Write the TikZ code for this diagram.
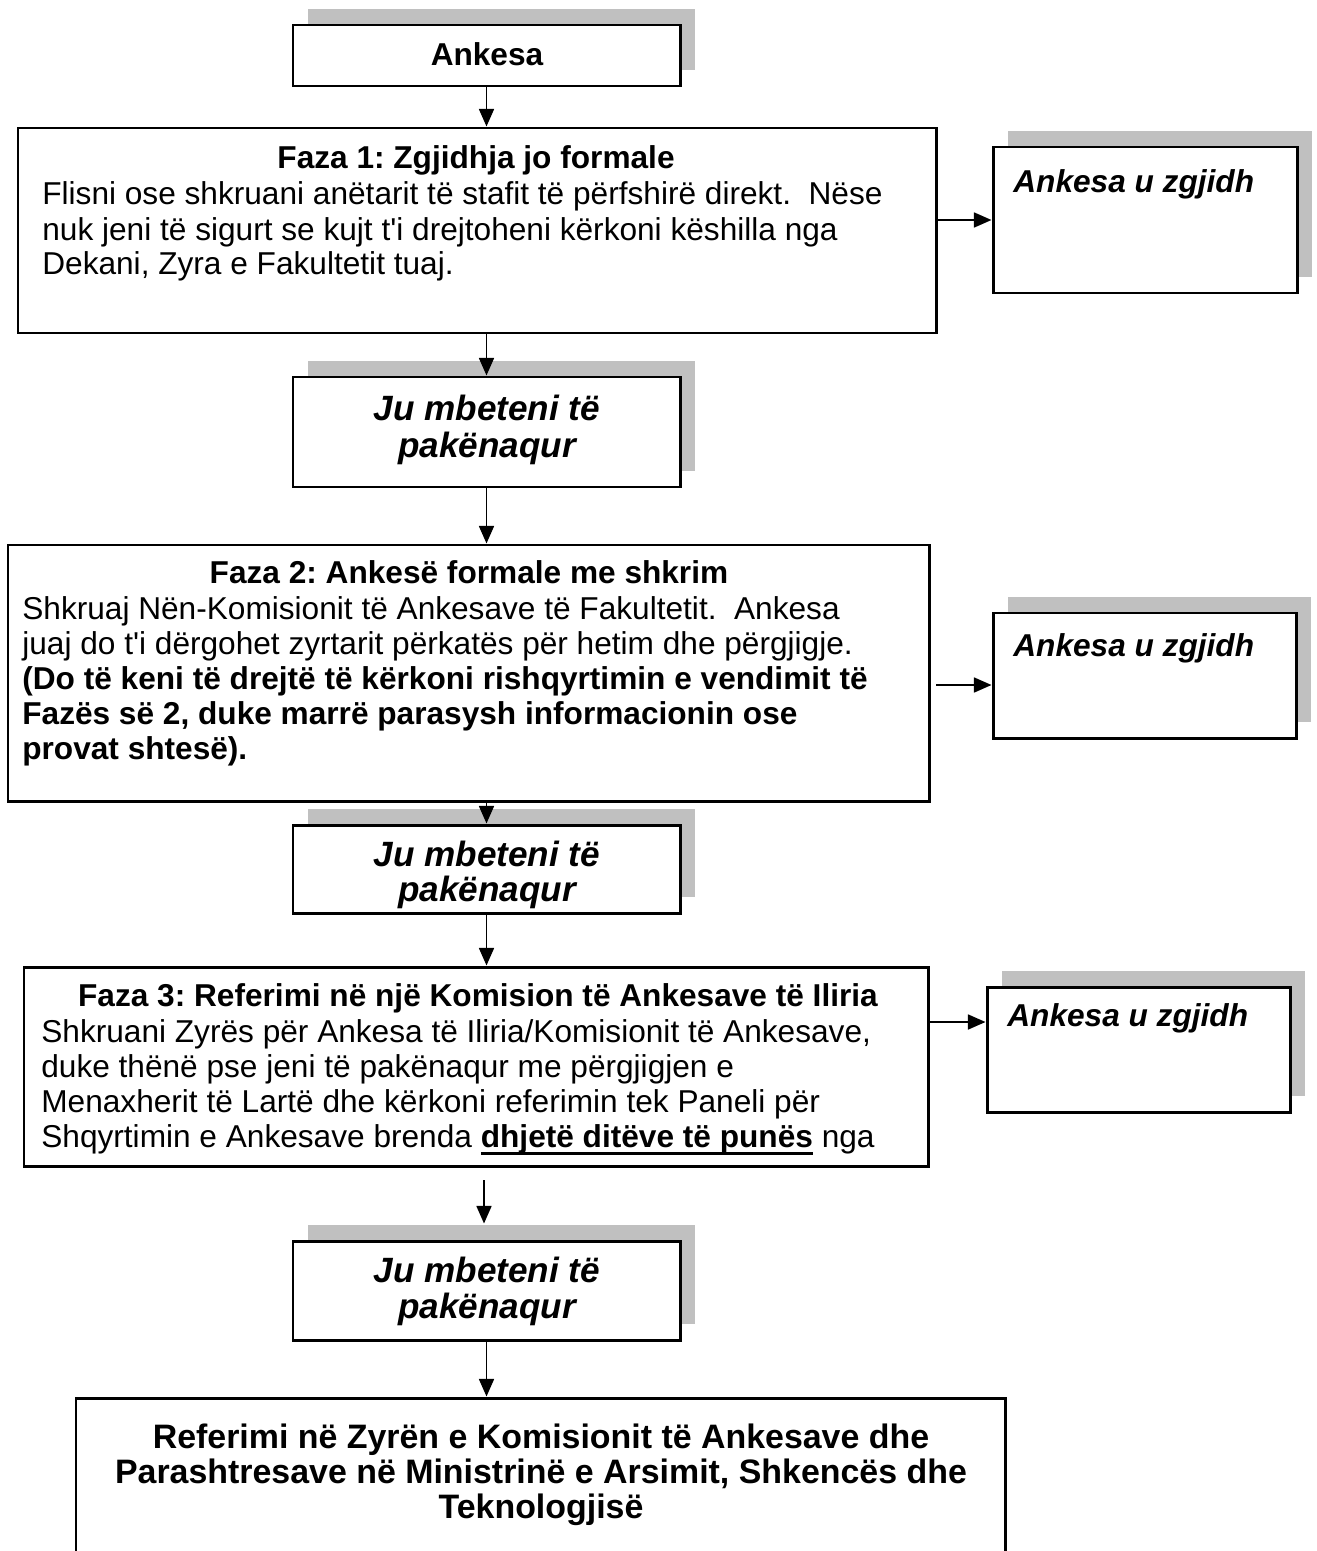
\documentclass[tikz,border=0pt]{standalone}
\usepackage{fontspec}
\setmainfont{Liberation Sans}[Ligatures=TeXOff]
\usetikzlibrary{arrows.meta,fit,shadows}
\definecolor{shadowgray}{HTML}{C0C0C0}
\newcommand\ulbold[1]{\setbox0\hbox{\bfseries #1}\rlap{\rule[-0.24em]{\wd0}{1.3pt}}\box0\relax}
\begin{document}
\frenchspacing
\begin{tikzpicture}[x=0.02cm,y=-0.02cm,
  box/.style={draw=black, line width=1.7pt, fill=white, inner sep=0pt},
  shbox/.style={box, drop shadow={shadow xshift=0.3cm, shadow yshift=0.32cm, fill=shadowgray, opacity=1}},
  arr/.style={line width=1.1pt, -{Triangle[length=10pt,width=8.5pt]}},
  txt/.style={inner sep=0pt, anchor=base west, font=\fontsize{18}{20}\selectfont},
  ttl/.style={inner sep=0pt, anchor=base, font=\fontsize{18}{20}\selectfont\bfseries},
  bigttl/.style={inner sep=0pt, anchor=base, font=\fontsize{19.3}{22}\selectfont\bfseries},
  itl/.style={inner sep=0pt, anchor=base, font=\fontsize{20}{22}\selectfont\bfseries\itshape},
  itlw/.style={inner sep=0pt, anchor=base west, font=\fontsize{18}{20}\selectfont\bfseries\itshape}
]
\useasboundingbox (0,0) rectangle (1316,1551);
\clip (0,0) rectangle (1316,1551);

% boxes
\node[shbox, fit={(293,25) (680,86)}] (ank) {};
\node[box, fit={(18,128) (936,333)}] (f1) {};
\node[shbox, fit={(993,147) (1297,293)}] (r1) {};
\node[shbox, fit={(293,377) (680,487)}] (ju1) {};
\node[box, fit={(8,545) (929,801)}] (f2) {};
\node[shbox, fit={(993,613) (1296,738)}] (r2) {};
\node[shbox, fit={(293,825) (680,913)}] (ju2) {};
\node[box, fit={(24,967) (928,1166)}] (f3) {};
\node[shbox, fit={(987,987) (1290,1112)}] (r3) {};
\node[shbox, fit={(293,1241) (680,1340)}] (ju3) {};
\node[box, fit={(76,1398) (1005,1580)}] (fin) {};

% texts
\node[ttl] (ankt) at (487,66) {Ankesa};

\node[ttl] (f1t) at (476,169) {Faza 1: Zgjidhja jo formale};
\node[txt] (f1a) at (42,205) {Flisni ose shkruani anëtarit të stafit të përfshirë direkt.\ \ Nëse};
\node[txt] (f1b) at (42,240) {nuk jeni të sigurt se kujt t'i drejtoheni kërkoni këshilla nga};
\node[txt] (f1c) at (42,275) {Dekani, Zyra e Fakultetit tuaj.};

\node[itlw] (r1t) at (1013,193) {Ankesa u zgjidh};

\node[itl] (ju1a) at (487,420) {Ju mbeteni të};
\node[itl] (ju1b) at (487,457) {pakënaqur};

\node[ttl] (f2t) at (469,583) {Faza 2: Ankesë formale me shkrim};
\node[txt] (f2a) at (22,619) {Shkruaj Nën-Komisionit të Ankesave të Fakultetit.\ \ Ankesa};
\node[txt] (f2b) at (22,654) {juaj do t'i dërgohet zyrtarit përkatës për hetim dhe përgjigje.};
\node[txt] (f2c) at (22,689) {\bfseries (Do të keni të drejtë të kërkoni rishqyrtimin e vendimit të};
\node[txt] (f2d) at (22,724) {\bfseries Fazës së 2, duke marrë parasysh informacionin ose};
\node[txt] (f2e) at (22,759) {\bfseries provat shtesë).};

\node[itlw] (r2t) at (1013,656) {Ankesa u zgjidh};

\node[itl] (ju2a) at (487,866) {Ju mbeteni të};
\node[itl] (ju2b) at (487,901) {pakënaqur};

\node[ttl] (f3t) at (478,1006) {Faza 3: Referimi në një Komision të Ankesave të Iliria};
\node[txt] (f3a) at (41,1042) {Shkruani Zyrës për Ankesa të Iliria/Komisionit të Ankesave,};
\node[txt] (f3b) at (41,1077) {duke thënë pse jeni të pakënaqur me përgjigjen e};
\node[txt] (f3c) at (41,1112) {Menaxherit të Lartë dhe kërkoni referimin tek Paneli për};
\node[txt] (f3d) at (41,1147) {Shqyrtimin e Ankesave brenda \ulbold{dhjetë ditëve të punës} nga};

\node[itlw] (r3t) at (1007,1026) {Ankesa u zgjidh};

\node[itl] (ju3a) at (487,1282) {Ju mbeteni të};
\node[itl] (ju3b) at (487,1318) {pakënaqur};

\node[bigttl] (fina) at (541,1448) {Referimi në Zyrën e Komisionit të Ankesave dhe};
\node[bigttl] (finb) at (541,1483) {Parashtresave në Ministrinë e Arsimit, Shkencës dhe};
\node[bigttl] (finc) at (541,1518) {Teknologjisë};

% connectors
\draw[arr] (ank.south) -- (ank.south |- f1.north);
\draw[arr] (ju1.north |- f1.south) -- (ju1.north);
\draw[arr] (ju1.south) -- (ju1.south |- f2.north);
\draw[arr] (ju2.north |- f2.south) -- (ju2.north);
\draw[arr] (ju2.south) -- (ju2.south |- f3.north);
\coordinate (s4) at (484,1180);
\draw[arr, shorten >=0.32cm] (s4) -- (s4 |- ju3.north);
\draw[arr] (ju3.south) -- (ju3.south |- fin.north);

\coordinate (y1) at (0,220);
\draw[arr] (f1.east |- y1) -- (r1.west |- y1);
\coordinate (s2) at (936,685);
\draw[arr] (s2) -- (r2.west |- s2);
\coordinate (y3) at (0,1022);
\draw[arr] (f3.east |- y3) -- (r3.west |- y3);
\end{tikzpicture}
\end{document}
